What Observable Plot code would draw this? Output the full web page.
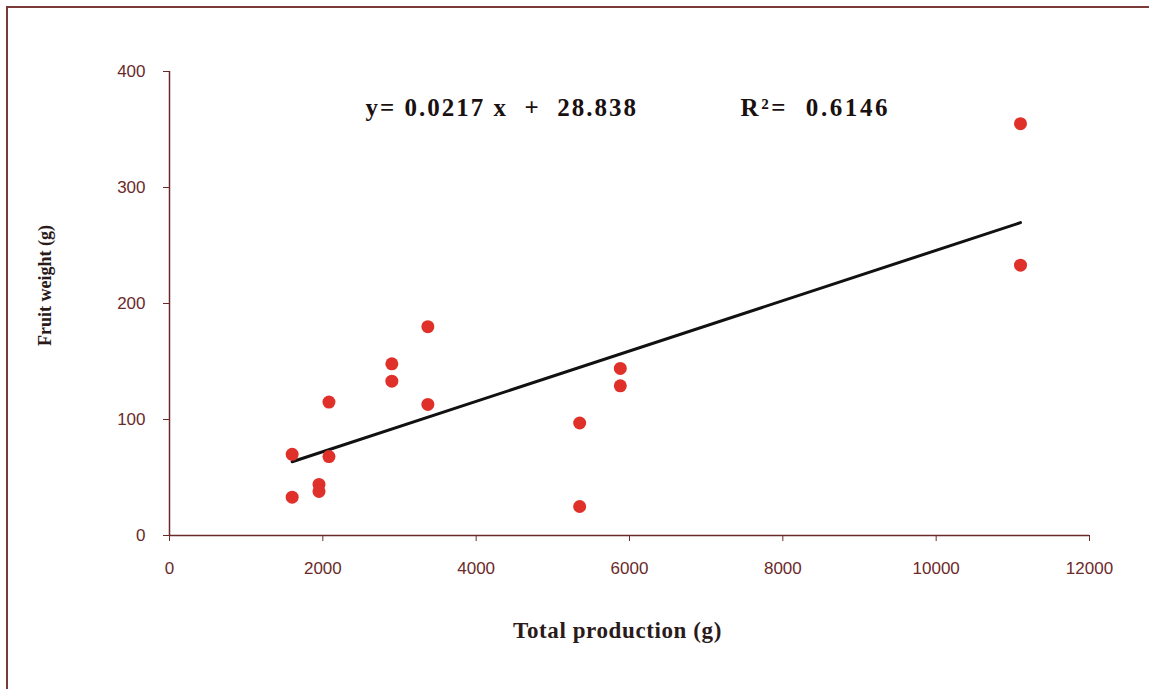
<!DOCTYPE html>
<html>
<head>
<meta charset="utf-8">
<script src="https://cdn.jsdelivr.net/npm/d3@7"></script>
<script src="https://cdn.jsdelivr.net/npm/@observablehq/plot@0.6"></script>
<style>
  html, body { margin: 0; padding: 0; background: #fff; }
  #chart { width: 1149px; height: 689px; position: relative; }
</style>
</head>
<body>
<div id="chart"></div>
<script>
// Data
const totalProduction = [1600, 1600, 1950, 1950, 2080, 2080, 2900, 2900, 3370, 3370, 5350, 5350, 5880, 5880, 11100, 11100];
const fruitWeight     = [70,   33,   44,   38,   115,  68,   148,  133,  180,  113,  97,   25,   144,  129,  355,   233];
const xTicks = [0, 2000, 4000, 6000, 8000, 10000, 12000];
const yTicks = [0, 100, 200, 300, 400];
const slope = 0.0217;
const intercept = 28.838;
const equationText = "y= 0.0217 x  +  28.838";
const r2Text = "R\u00B2=  0.6146";
const xLabel = "Total production (g)";
const yLabel = "Fruit weight (g)";

const points = totalProduction.map((x, i) => ({x, y: fruitWeight[i]}));
const xMin = d3.min(totalProduction), xMax = d3.max(totalProduction);
const trend = [xMin, xMax].map(x => ({x, y: slope * x + intercept}));

const axisColor = "#6b2a2a";
const serif = "'Liberation Serif', 'Times New Roman', serif";
const sans = "'Liberation Sans', Arial, sans-serif";

const plot = Plot.plot({
  width: 1149,
  height: 689,
  marginLeft: 169,
  marginRight: 60,
  marginTop: 71,
  marginBottom: 154,
  style: { background: "#fff", fontFamily: sans },
  x: { domain: [0, 12000], ticks: xTicks },
  y: { domain: [0, 400], ticks: yTicks },
  marks: [
    Plot.axisX({ ticks: xTicks, tickSize: 6, tickPadding: 20, stroke: axisColor, fill: axisColor,
      fontSize: 17, label: null, tickFormat: d => String(d) }),
    Plot.axisY({ ticks: yTicks, tickSize: 6, tickPadding: 18, stroke: axisColor, fill: axisColor,
      fontSize: 17, label: null, tickFormat: d => String(d) }),
    Plot.ruleX([0], { stroke: axisColor, strokeWidth: 1.5 }),
    Plot.ruleY([0], { stroke: axisColor, strokeWidth: 1.5 }),
    Plot.line(trend, { x: "x", y: "y", stroke: "#111", strokeWidth: 3 }),
    Plot.dot(points, { x: "x", y: "y", r: 6.5, fill: "#e0302a", stroke: "none" }),
    Plot.text([equationText], { frameAnchor: "top-left", dx: 196, dy: 36, textAnchor: "start",
      lineAnchor: "middle", fontSize: 25, fontWeight: "bold", fontFamily: serif, fill: "#1a1010" }),
    Plot.text([r2Text], { frameAnchor: "top-left", dx: 571, dy: 36, textAnchor: "start",
      lineAnchor: "middle", fontSize: 25, fontWeight: "bold", fontFamily: serif, fill: "#1a1010" }),
    Plot.text([xLabel], { frameAnchor: "bottom", textAnchor: "middle", dx: -12, dy: 95, lineAnchor: "middle",
      fontSize: 23, fontWeight: "bold", fontFamily: serif, fill: "#2a1a1a" }),
    Plot.text([yLabel], { frameAnchor: "left", textAnchor: "middle", dx: -124, dy: -18, rotate: -90, lineAnchor: "middle",
      fontSize: 18, fontWeight: "bold", fontFamily: serif, fill: "#2a1a1a" })
  ]
});

// letter spacing for the wide-set annotation texts
const spacing = new Map([[equationText, 2], [r2Text, 2.6], [xLabel, 0.6]]);
d3.select(plot).selectAll("text").each(function () {
  const s = spacing.get(this.textContent);
  if (s != null) this.setAttribute("letter-spacing", s);
});

// outer border rectangle (top and left edges visible; the rest lies outside the picture)
d3.select(plot).insert("rect", ":first-child")
  .attr("x", 7).attr("y", 7).attr("width", 1160).attr("height", 700)
  .attr("fill", "none").attr("stroke", "#7a3a3a").attr("stroke-width", 2);

document.getElementById("chart").appendChild(plot);
</script>
</body>
</html>
